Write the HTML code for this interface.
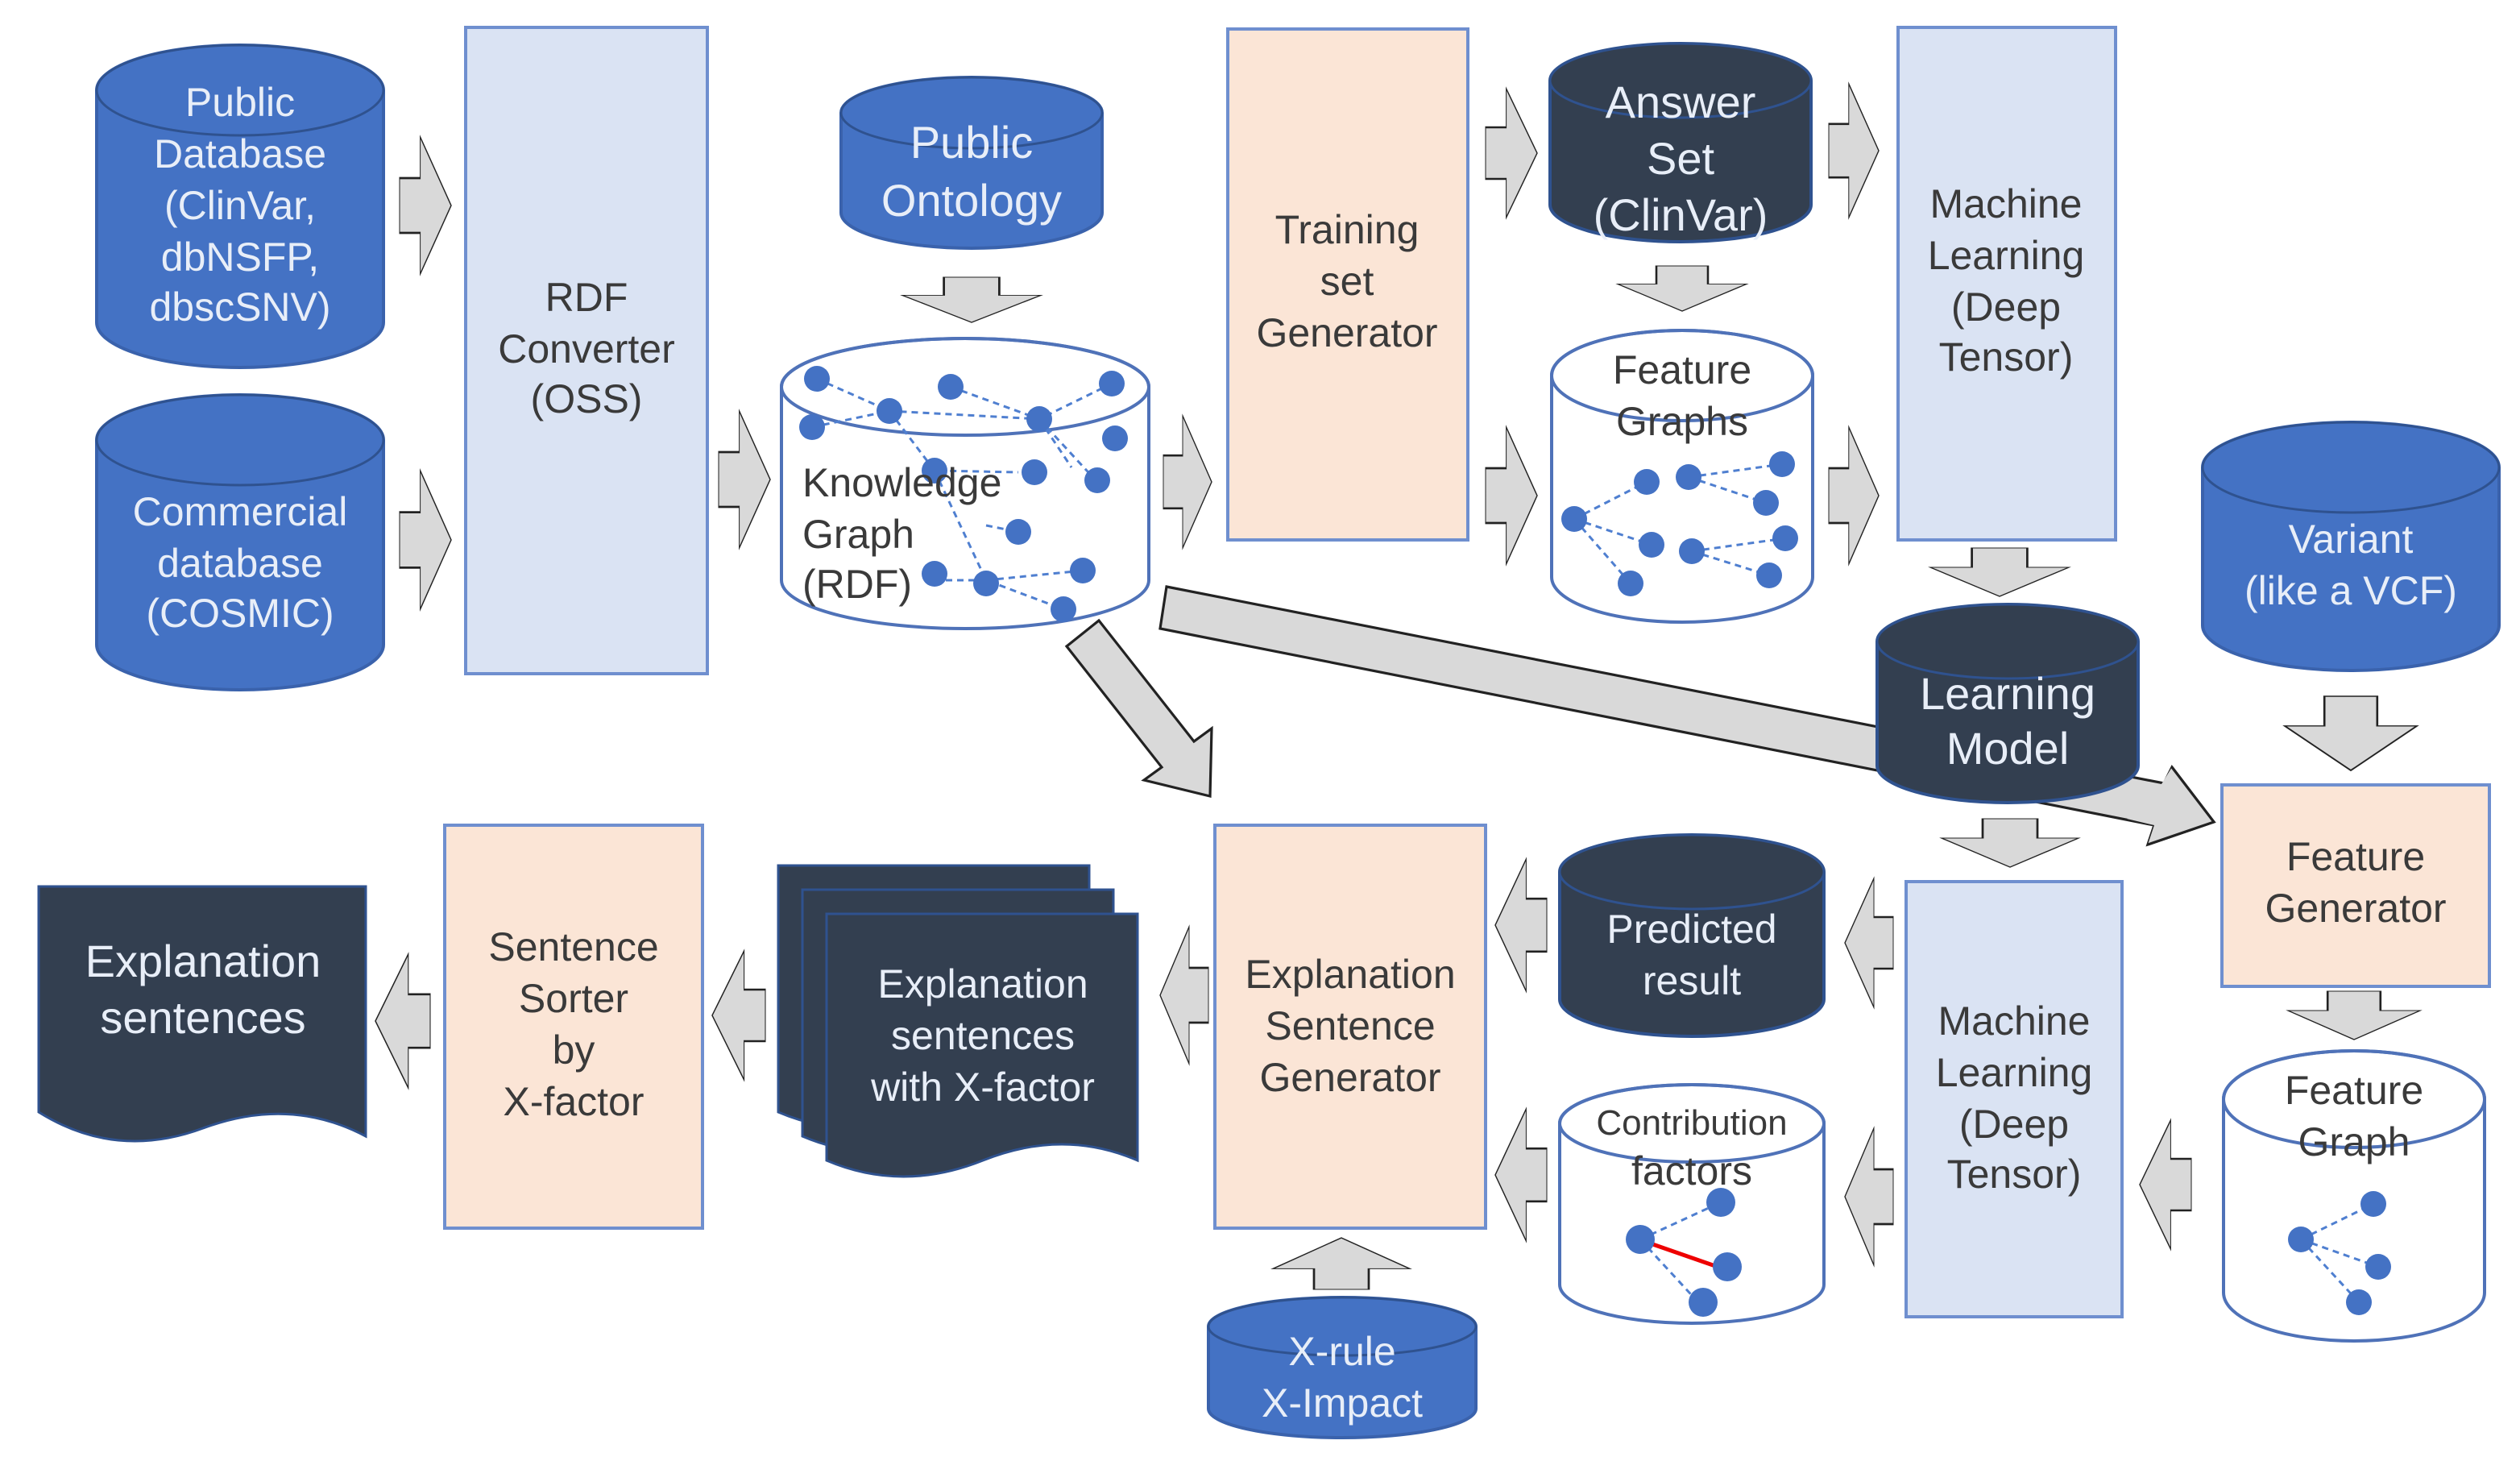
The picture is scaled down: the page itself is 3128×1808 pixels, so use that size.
<!DOCTYPE html>
<html><head><meta charset="utf-8"><style>
html,body{margin:0;padding:0;background:#fff}
svg{display:block}
text{font-family:"Liberation Sans",sans-serif;text-anchor:middle}
.dk{fill:#3a3a3a;font-size:25px}
.wt{fill:#e8eef8;font-size:25px}
.ar{fill:#d9d9d9;stroke:#222;stroke-width:1.6;stroke-linejoin:miter}
.n{fill:#4472c4}
.e{stroke:#4f7fd0;stroke-width:1.5;stroke-dasharray:4 3;fill:none}
</style></head><body>
<svg width="3128" height="1808" viewBox="0 0 1564 904" xmlns="http://www.w3.org/2000/svg">
<defs>
<polygon id="R" points="0,30 40,30 40,0 100,50 40,100 40,70 0,70"/>
<polygon id="D" points="30,0 70,0 70,40 100,40 50,100 0,40 30,40"/>
</defs>

<!-- long diagonal arrow (behind) -->
<polygon class="ar" points="724,364 1343,486 1348,476 1374,510 1333,524 1337,512 720,390"/>
<!-- KG diagonal arrow -->
<polygon class="ar" points="662,401 682,385 741,460 752,452 751,494 710,484 721,476"/>

<!-- Public Database -->
<g>
<path d="M60,56 A89,28 0 0 1 238,56 V200 A89,28 0 0 1 60,200 Z" fill="#4472c4" stroke="#3a62ac" stroke-width="2"/>
<ellipse cx="149" cy="56" rx="89" ry="28" fill="#4472c4" stroke="#2f528f" stroke-width="1.5"/>
<text class="wt" x="149" y="72">Public</text>
<text class="wt" x="149" y="104">Database</text>
<text class="wt" x="149" y="136">(ClinVar,</text>
<text class="wt" x="149" y="168">dbNSFP,</text>
<text class="wt" x="149" y="199">dbscSNV)</text>
</g>
<!-- Commercial -->
<path d="M60,273 A89,28 0 0 1 238,273 V400 A89,28 0 0 1 60,400 Z" fill="#4472c4" stroke="#3a62ac" stroke-width="2"/>
<ellipse cx="149" cy="273" rx="89" ry="28" fill="#4472c4" stroke="#2f528f" stroke-width="1.5"/>
<text class="wt" x="149" y="326">Commercial</text>
<text class="wt" x="149" y="358">database</text>
<text class="wt" x="149" y="389">(COSMIC)</text>

<use href="#R" class="ar" transform="translate(248,85) scale(0.32,0.85)" vector-effect="non-scaling-stroke"/>
<use href="#R" class="ar" transform="translate(248,292) scale(0.32,0.86)"/>

<!-- RDF converter -->
<rect x="289" y="17" width="150" height="401" fill="#dae3f3" stroke="#6f8fcf" stroke-width="2"/>
<text class="dk" x="364" y="193">RDF</text>
<text class="dk" x="364" y="225">Converter</text>
<text class="dk" x="364" y="256">(OSS)</text>

<!-- Public Ontology -->
<path d="M522,70 A81,22 0 0 1 684,70 V132 A81,22 0 0 1 522,132 Z" fill="#4472c4" stroke="#3a62ac" stroke-width="2"/>
<ellipse cx="603" cy="70" rx="81" ry="22" fill="#4472c4" stroke="#2f528f" stroke-width="1.5"/>
<text class="wt" x="603" y="98" style="font-size:28px">Public</text>
<text class="wt" x="603" y="134" style="font-size:28px">Ontology</text>
<use href="#D" class="ar" transform="translate(560,172) scale(0.86,0.28)"/>

<use href="#R" class="ar" transform="translate(446,255) scale(0.32,0.85)"/>

<!-- Knowledge graph -->
<path d="M485,240 A114,30 0 0 1 713,240 V360 A114,30 0 0 1 485,360 Z" fill="#fff" stroke="#4f72b8" stroke-width="2"/>
<ellipse cx="599" cy="240" rx="114" ry="30" fill="none" stroke="#4f72b8" stroke-width="2"/>
<g class="e">
<path d="M507,235 L552,255 L645,260 L690,238 M552,255 L580,292 L632,293 M645,260 L680,298 M645,260 L665,290 M590,240 L645,260 M580,292 L612,360 L660,378 M612,360 L672,354 M580,360 L612,360 M504,265 L552,255 M612,326 L632,330"/>
</g>
<g class="n">
<circle cx="507" cy="235" r="8"/><circle cx="590" cy="240" r="8"/><circle cx="690" cy="238" r="8"/>
<circle cx="552" cy="255" r="8"/><circle cx="645" cy="260" r="8"/><circle cx="504" cy="265" r="8"/>
<circle cx="692" cy="272" r="8"/><circle cx="580" cy="292" r="8"/><circle cx="642" cy="293" r="8"/>
<circle cx="681" cy="298" r="8"/><circle cx="632" cy="330" r="8"/><circle cx="580" cy="356" r="8"/>
<circle cx="612" cy="362" r="8"/><circle cx="672" cy="354" r="8"/><circle cx="660" cy="378" r="8"/>
</g>
<text class="dk" x="498" y="308" style="text-anchor:start">Knowledge</text>
<text class="dk" x="498" y="340" style="text-anchor:start">Graph</text>
<text class="dk" x="498" y="371" style="text-anchor:start">(RDF)</text>

<use href="#R" class="ar" transform="translate(722,258) scale(0.30,0.82)"/>

<!-- Training set generator -->
<rect x="762" y="18" width="149" height="317" fill="#fbe5d6" stroke="#6f8fcf" stroke-width="2"/>
<text class="dk" x="836" y="151">Training</text>
<text class="dk" x="836" y="183">set</text>
<text class="dk" x="836" y="215">Generator</text>

<use href="#R" class="ar" transform="translate(922,55) scale(0.32,0.8)"/>
<use href="#R" class="ar" transform="translate(922,265) scale(0.32,0.85)"/>

<!-- Answer set -->
<path d="M962,50 A81,23 0 0 1 1124,50 V127 A81,23 0 0 1 962,127 Z" fill="#333f50" stroke="#2f528f" stroke-width="2"/>
<ellipse cx="1043" cy="50" rx="81" ry="23" fill="#333f50" stroke="#2f528f" stroke-width="1.5"/>
<text class="wt" x="1043" y="73" style="font-size:28px">Answer</text>
<text class="wt" x="1043" y="108" style="font-size:28px">Set</text>
<text class="wt" x="1043" y="143" style="font-size:28px">(ClinVar)</text>
<use href="#D" class="ar" transform="translate(1004,165) scale(0.8,0.28)"/>

<!-- Feature graphs -->
<path d="M963,233 A81,28 0 0 1 1125,233 V358 A81,28 0 0 1 963,358 Z" fill="#fff" stroke="#4f72b8" stroke-width="2"/>
<ellipse cx="1044" cy="233" rx="81" ry="28" fill="none" stroke="#4f72b8" stroke-width="2"/>
<text class="dk" x="1044" y="238">Feature</text>
<text class="dk" x="1044" y="270">Graphs</text>
<g class="e"><path d="M977,322 L1022,299 M977,322 L1025,338 M977,322 L1012,362 M1048,296 L1106,288 M1048,296 L1096,312 M1050,342 L1108,334 M1050,342 L1098,357"/></g>
<g class="n"><circle cx="977" cy="322" r="8"/><circle cx="1022" cy="299" r="8"/><circle cx="1048" cy="296" r="8"/><circle cx="1106" cy="288" r="8"/><circle cx="1096" cy="312" r="8"/><circle cx="1025" cy="338" r="8"/><circle cx="1050" cy="342" r="8"/><circle cx="1108" cy="334" r="8"/><circle cx="1098" cy="357" r="8"/><circle cx="1012" cy="362" r="8"/></g>

<use href="#R" class="ar" transform="translate(1135,52) scale(0.31,0.83)"/>
<use href="#R" class="ar" transform="translate(1135,265) scale(0.31,0.85)"/>

<!-- ML box 1 -->
<rect x="1178" y="17" width="135" height="318" fill="#dae3f3" stroke="#6f8fcf" stroke-width="2"/>
<text class="dk" x="1245" y="135">Machine</text>
<text class="dk" x="1245" y="167">Learning</text>
<text class="dk" x="1245" y="199">(Deep</text>
<text class="dk" x="1245" y="230">Tensor)</text>
<use href="#D" class="ar" transform="translate(1198,340) scale(0.86,0.30)"/>

<!-- Learning model -->
<path d="M1165,398 A81,23 0 0 1 1327,398 V475 A81,23 0 0 1 1165,475 Z" fill="#333f50" stroke="#2f528f" stroke-width="2"/>
<ellipse cx="1246" cy="398" rx="81" ry="23" fill="#333f50" stroke="#2f528f" stroke-width="1.5"/>
<text class="wt" x="1246" y="440" style="font-size:28px">Learning</text>
<text class="wt" x="1246" y="474" style="font-size:28px">Model</text>
<!-- arrow tip over learning model region -->
<polygon class="ar" points="1330,505 1348,476 1374,510 1333,524 1337,512 1320,508" style="stroke:none"/>
<polyline points="1348,476 1374,510 1333,524" fill="none" stroke="#222" stroke-width="1.6"/>

<!-- Variant -->
<path d="M1367,290 A92,28 0 0 1 1551,290 V388 A92,28 0 0 1 1367,388 Z" fill="#4472c4" stroke="#3a62ac" stroke-width="2"/>
<ellipse cx="1459" cy="290" rx="92" ry="28" fill="#4472c4" stroke="#2f528f" stroke-width="1.5"/>
<text class="wt" x="1459" y="343">Variant</text>
<text class="wt" x="1459" y="375">(like a VCF)</text>
<use href="#D" class="ar" transform="translate(1418,432) scale(0.82,0.46)"/>

<!-- Feature generator -->
<rect x="1379" y="487" width="166" height="125" fill="#fbe5d6" stroke="#6f8fcf" stroke-width="2"/>
<text class="dk" x="1462" y="540">Feature</text>
<text class="dk" x="1462" y="572">Generator</text>
<use href="#D" class="ar" transform="translate(1420,615) scale(0.82,0.30)"/>

<!-- Feature graph -->
<path d="M1380,682 A81,30 0 0 1 1542,682 V802 A81,30 0 0 1 1380,802 Z" fill="#fff" stroke="#4f72b8" stroke-width="2"/>
<ellipse cx="1461" cy="682" rx="81" ry="30" fill="none" stroke="#4f72b8" stroke-width="2"/>
<text class="dk" x="1461" y="685">Feature</text>
<text class="dk" x="1461" y="717">Graph</text>
<g class="e"><path d="M1428,769 L1473,747 M1428,769 L1476,786 M1428,769 L1464,808"/></g>
<g class="n"><circle cx="1428" cy="769" r="8"/><circle cx="1473" cy="747" r="8"/><circle cx="1476" cy="786" r="8"/><circle cx="1464" cy="808" r="8"/></g>

<use href="#R" class="ar" transform="translate(1360,695) scale(-0.32,0.8)"/>

<!-- ML box 2 -->
<use href="#D" class="ar" transform="translate(1205,508) scale(0.85,0.30)"/>
<rect x="1183" y="547" width="134" height="270" fill="#dae3f3" stroke="#6f8fcf" stroke-width="2"/>
<text class="dk" x="1250" y="642">Machine</text>
<text class="dk" x="1250" y="674">Learning</text>
<text class="dk" x="1250" y="706">(Deep</text>
<text class="dk" x="1250" y="737">Tensor)</text>

<use href="#R" class="ar" transform="translate(1175,545) scale(-0.30,0.8)"/>
<use href="#R" class="ar" transform="translate(1175,700) scale(-0.30,0.85)"/>

<!-- Predicted result -->
<path d="M968,541 A82,23 0 0 1 1132,541 V620 A82,23 0 0 1 968,620 Z" fill="#333f50" stroke="#2f528f" stroke-width="2"/>
<ellipse cx="1050" cy="541" rx="82" ry="23" fill="#333f50" stroke="#2f528f" stroke-width="1.5"/>
<text class="wt" x="1050" y="585">Predicted</text>
<text class="wt" x="1050" y="617">result</text>

<!-- Contribution factors -->
<path d="M968,697 A82,24 0 0 1 1132,697 V797 A82,24 0 0 1 968,797 Z" fill="#fff" stroke="#4f72b8" stroke-width="2"/>
<ellipse cx="1050" cy="697" rx="82" ry="24" fill="none" stroke="#4f72b8" stroke-width="2"/>
<text class="dk" x="1050" y="704" style="font-size:22px">Contribution</text>
<text class="dk" x="1050" y="735">factors</text>
<g class="e"><path d="M1018,769 L1068,746 M1018,769 L1054,808"/></g>
<line x1="1020" y1="770" x2="1066" y2="786" stroke="#e00" stroke-width="2.5"/>
<g class="n"><circle cx="1018" cy="769" r="9"/><circle cx="1068" cy="746" r="9"/><circle cx="1072" cy="786" r="9"/><circle cx="1057" cy="808" r="9"/></g>

<use href="#R" class="ar" transform="translate(960,533) scale(-0.32,0.82)"/>
<use href="#R" class="ar" transform="translate(960,688) scale(-0.32,0.82)"/>

<!-- Explanation sentence generator -->
<rect x="754" y="512" width="168" height="250" fill="#fbe5d6" stroke="#6f8fcf" stroke-width="2"/>
<text class="dk" x="838" y="613">Explanation</text>
<text class="dk" x="838" y="645">Sentence</text>
<text class="dk" x="838" y="677">Generator</text>
<use href="#D" class="ar" transform="translate(790,800) scale(0.85,-0.32)"/>

<!-- X-rule -->
<path d="M750,823 A83,18 0 0 1 916,823 V874 A83,18 0 0 1 750,874 Z" fill="#4472c4" stroke="#3a62ac" stroke-width="2"/>
<ellipse cx="833" cy="823" rx="83" ry="18" fill="#4472c4" stroke="#2f528f" stroke-width="1.5"/>
<text class="wt" x="833" y="847">X-rule</text>
<text class="wt" x="833" y="879">X-Impact</text>

<use href="#R" class="ar" transform="translate(750,575) scale(-0.30,0.85)"/>

<!-- stacked documents -->
<path d="M483,537 H676 V690 Q630,670 580,690 T483,690 Z" fill="#333f50" stroke="#2f528f" stroke-width="1.5"/>
<path d="M498,552 H691 V705 Q645,685 595,705 T498,705 Z" fill="#333f50" stroke="#2f528f" stroke-width="1.5"/>
<path d="M513,567 H706 V720 Q660,700 610,720 T513,720 Z" fill="#333f50" stroke="#2f528f" stroke-width="1.5"/>
<text class="wt" x="610" y="619">Explanation</text>
<text class="wt" x="610" y="651">sentences</text>
<text class="wt" x="610" y="683">with X-factor</text>

<use href="#R" class="ar" transform="translate(475,590) scale(-0.33,0.8)"/>

<!-- sentence sorter -->
<rect x="276" y="512" width="160" height="250" fill="#fbe5d6" stroke="#6f8fcf" stroke-width="2"/>
<text class="dk" x="356" y="596">Sentence</text>
<text class="dk" x="356" y="628">Sorter</text>
<text class="dk" x="356" y="660">by</text>
<text class="dk" x="356" y="692">X-factor</text>

<use href="#R" class="ar" transform="translate(267,592) scale(-0.34,0.83)"/>

<!-- explanation sentences -->
<path d="M24,550 H227 V705 Q180,680 126,700 T24,690 Z" fill="#333f50" stroke="#2f528f" stroke-width="1.5"/>
<text class="wt" x="126" y="606" style="font-size:28px">Explanation</text>
<text class="wt" x="126" y="641" style="font-size:28px">sentences</text>
</svg>
</body></html>
